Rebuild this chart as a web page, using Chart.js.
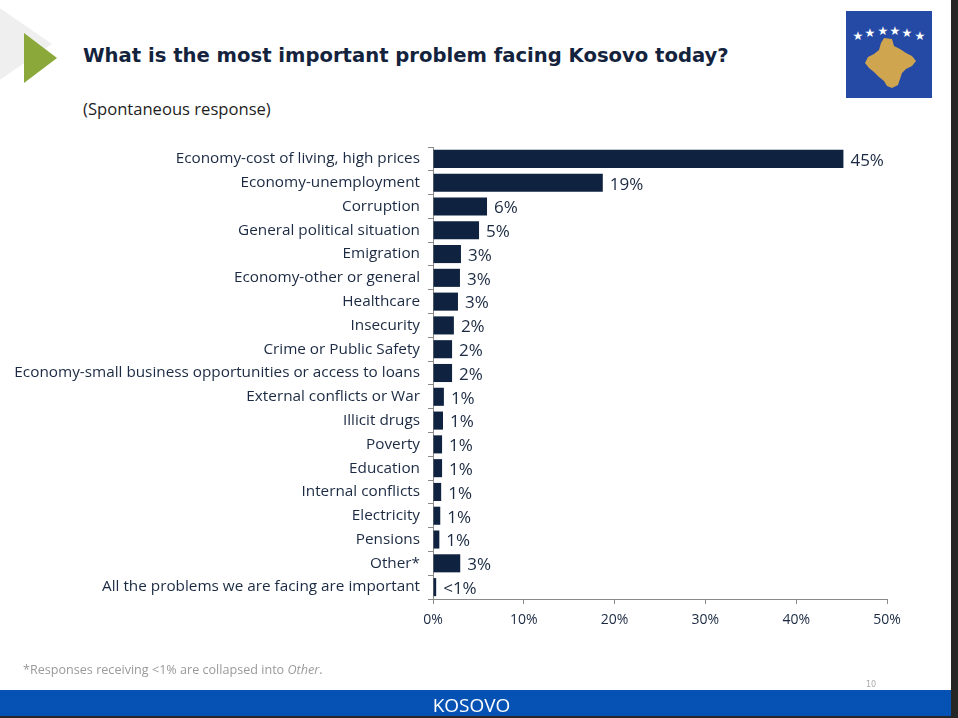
<!DOCTYPE html>
<html>
<head>
<meta charset="utf-8">
<script src="https://cdn.jsdelivr.net/npm/chart.js@4"></script>
<style>
  html, body { margin: 0; padding: 0; background: #fff; }
  body { width: 958px; height: 718px; position: relative; overflow: hidden; font-family: "DejaVu Sans", sans-serif; }
  #wrap { position: absolute; left: 0; top: 0; width: 958px; height: 718px; }
  .abs { position: absolute; }
  #title { left: 83px; top: 44px; font-size: 19.6px; font-weight: bold; color: #14233d; white-space: nowrap; }
  #sub { left: 83px; top: 97px; font-size: 16.6px; color: #1e1e1e; font-family: "Open Sans", sans-serif; }
  #note { left: 23px; top: 661px; font-size: 12.6px; color: #9a9a9a; font-family: "Open Sans", sans-serif; white-space: nowrap; }
  #page { left: 866px; top: 680px; font-size: 8px; color: #aaa; }
  #band { left: 0; top: 690px; width: 951px; height: 26px; background: #0652b4; color: #fff; text-align: center; font-size: 19px; line-height: 30px; font-family: "Open Sans", sans-serif; }
  #band span { position: relative; left: -4px; }
  #edge { left: 951px; top: 0; width: 7px; height: 718px; background: #262626; }
  #bottom { left: 0; top: 716px; width: 958px; height: 2px; background: #262626; }
</style>
</head>
<body>
<svg class="abs" style="left:0;top:0" width="120" height="100">
  <polygon points="-12,0 52,44 -12,88" fill="#efeff0"/>
  <polygon points="24,33 57,58 24,83" fill="#8ba83b"/>
</svg>
<div id="title" class="abs">What is the most important problem facing Kosovo today?</div>
<div id="sub" class="abs">(Spontaneous response)</div>
<svg class="abs" style="left:846px;top:11px" width="86" height="87" viewBox="0 0 86 87">
  <rect x="0" y="0" width="86" height="87" fill="#244aa5"/>
  <g fill="#fff" font-size="12" text-anchor="middle" font-family="DejaVu Sans">
    <text x="12" y="29">★</text><text x="24" y="26">★</text><text x="37" y="24">★</text>
    <text x="49" y="24">★</text><text x="61" y="26">★</text><text x="74" y="29">★</text>
  </g>
  <path d="M38,27 L46,28 L48,35 L54,38 L60,42 L66,45 L70,50 L66,55 L60,58 L56,62 L54,68 L52,74 L46,77 L41,75 L38,70 L33,66 L28,61 L23,57 L19,52 L22,46 L28,43 L33,39 L35,32 Z" fill="#d0a54f"/>
</svg>
<div id="wrap" class="abs"><canvas id="chart" width="958" height="718"></canvas></div>
<div id="note" class="abs">*Responses receiving &lt;1% are collapsed into <i>Other</i>.</div>
<div id="page" class="abs">10</div>
<div id="band" class="abs"><span>KOSOVO</span></div>
<div id="edge" class="abs"></div>
<div id="bottom" class="abs"></div>
<script>
var problems = [
  "Economy-cost of living, high prices",
  "Economy-unemployment",
  "Corruption",
  "General political situation",
  "Emigration",
  "Economy-other or general",
  "Healthcare",
  "Insecurity",
  "Crime or Public Safety",
  "Economy-small business opportunities or access to loans",
  "External conflicts or War",
  "Illicit drugs",
  "Poverty",
  "Education",
  "Internal conflicts",
  "Electricity",
  "Pensions",
  "Other*",
  "All the problems we are facing are important"
];
var shares = [45.2, 18.7, 5.95, 5.07, 3.08, 2.97, 2.75, 2.3, 2.1, 2.1, 1.2, 1.1, 1.0, 1.0, 0.9, 0.8, 0.7, 3.0, 0.35];
var shareLabels = ["45%", "19%", "6%", "5%", "3%", "3%", "3%", "2%", "2%", "2%", "1%", "1%", "1%", "1%", "1%", "1%", "1%", "3%", "<1%"];
var axisTicks = [0, 10, 20, 30, 40, 50];

var navy = "#0f2341";

var valueLabels = {
  id: 'valueLabels',
  afterDatasetsDraw: function (chart) {
    var ctx = chart.ctx;
    var meta = chart.getDatasetMeta(0);
    ctx.save();
    ctx.font = '17px "Open Sans", sans-serif';
    ctx.fillStyle = "#1b2a42";
    ctx.textBaseline = "middle";
    ctx.textAlign = "left";
    meta.data.forEach(function (bar, i) {
      ctx.fillText(shareLabels[i], bar.x + 7, bar.y + 2);
    });
    ctx.restore();
  }
};

new Chart(document.getElementById('chart'), {
  type: 'bar',
  data: {
    labels: problems,
    datasets: [{
      data: shares,
      backgroundColor: navy,
      categoryPercentage: 1,
      barPercentage: 0.76
    }]
  },
  options: {
    indexAxis: 'y',
    responsive: false,
    animation: false,
    devicePixelRatio: 1,
    layout: { padding: { left: 0, right: 71, top: 147, bottom: 89 } },
    plugins: { legend: { display: false }, tooltip: { enabled: false } },
    scales: {
      x: {
        min: 0, max: 50,
        afterBuildTicks: function (scale) {
          scale.ticks = axisTicks.map(function (v) { return { value: v }; });
        },
        afterFit: function (scale) { scale.height = 30; },
        grid: { drawOnChartArea: false, drawTicks: true, tickLength: 5, color: "#8a8a8a" },
        border: { display: true, color: "#8a8a8a" },
        ticks: {
          padding: 8,
          color: "#1b2a42",
          font: { family: '"Open Sans", sans-serif', size: 14 },
          callback: function (v) { return v + '%'; }
        }
      },
      y: {
        afterFit: function (scale) { scale.width = 433; },
        grid: { drawOnChartArea: false, drawTicks: true, tickLength: 5, color: "#8a8a8a", offset: true },
        border: { display: true, color: "#8a8a8a" },
        ticks: {
          padding: 8,
          color: "#1b2a42",
          autoSkip: false,
          font: { family: '"Open Sans", sans-serif', size: 15.3 }
        }
      }
    }
  },
  plugins: [valueLabels]
});
</script>
</body>
</html>
